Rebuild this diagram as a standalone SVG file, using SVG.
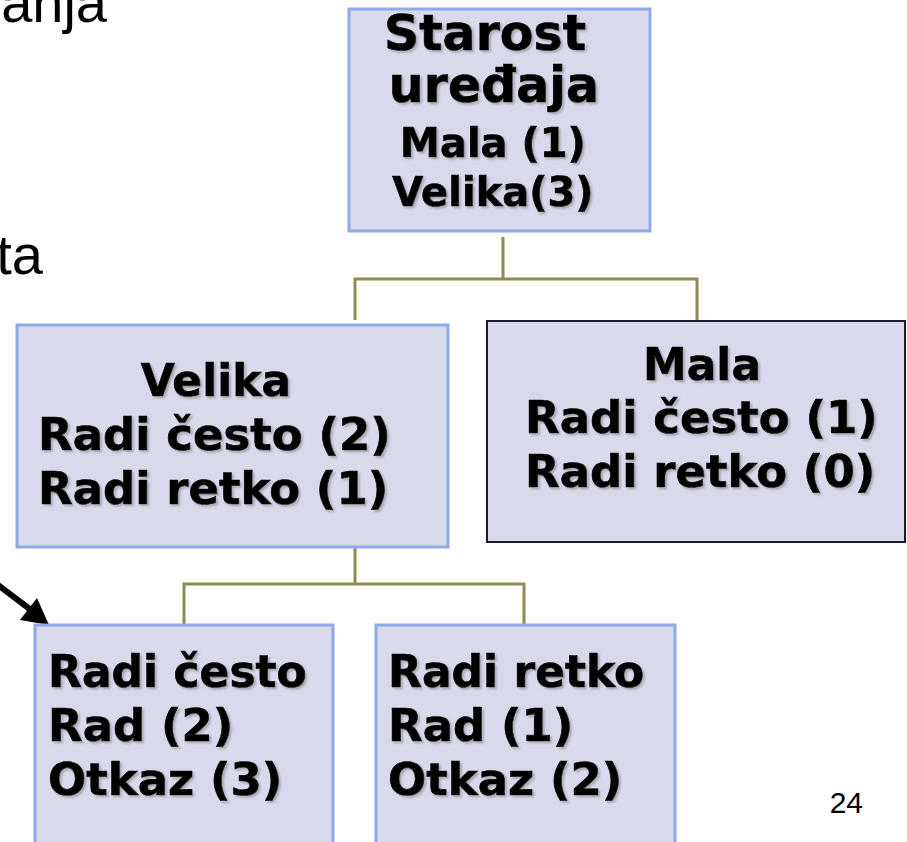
<svg xmlns="http://www.w3.org/2000/svg" width="907" height="842" viewBox="0 0 907 842">
<defs>
<filter id="sh" x="-5%" y="-10%" width="115%" height="130%">
<feDropShadow dx="2" dy="2" stdDeviation="0.8" flood-color="#888" flood-opacity="0.6"/>
</filter>
</defs>
<style>
.box{fill:#d9d9ec;stroke:#8faaea;stroke-width:3}
.boxd{fill:#d9d9ec;stroke:#1c1c2c;stroke-width:2}
.t{font-family:"DejaVu Sans",Verdana,sans-serif;font-weight:bold;fill:#000;stroke:#000;stroke-width:0.7;filter:url(#sh)}
.s{font-family:"Liberation Sans",Arial,sans-serif;fill:#000}
.c{fill:none;stroke:#8e8c4e;stroke-width:3}
</style>
<rect width="907" height="842" fill="#fff"/>
<text class="s" x="107" y="22" font-size="56" text-anchor="end">anja</text>
<text class="s" x="43" y="274" font-size="56" text-anchor="end">ta</text>
<text class="s" x="863" y="813" font-size="30" text-anchor="end">24</text>
<g id="connectors">
<path class="c" d="M503,237 V279 M355,320 V279 H697 V320"/>
<path class="c" d="M355,547 V584 M184,625 V584 H524 V625"/>
<line x1="-2" y1="585" x2="31" y2="610" stroke="#000" stroke-width="6"/>
<polygon points="49,625 20,620 37,598" fill="#000"/>
</g>
<g id="n_starost">
<rect class="box" x="349" y="9" width="301" height="222"/>
<text class="t" font-size="49" x="485" y="50" text-anchor="middle">Starost</text>
<text class="t" font-size="49" x="494" y="102" text-anchor="middle">uređaja</text>
<text class="t" font-size="40" x="493" y="157" text-anchor="middle">Mala (1)</text>
<text class="t" font-size="40" x="493" y="206" text-anchor="middle">Velika(3)</text>
</g>
<g id="n_velika">
<rect class="box" x="17" y="325" width="431" height="222"/>
<text class="t" font-size="44" x="216" y="396" text-anchor="middle">Velika</text>
<text class="t" font-size="45" x="38" y="450">Radi često (2)</text>
<text class="t" font-size="45" x="38" y="504">Radi retko (1)</text>
</g>
<g id="n_mala">
<rect class="boxd" x="487" y="321" width="418" height="221"/>
<text class="t" font-size="44" x="702" y="380" text-anchor="middle">Mala</text>
<text class="t" font-size="45" x="525" y="433">Radi često (1)</text>
<text class="t" font-size="45" x="525" y="487">Radi retko (0)</text>
</g>
<g id="n_cesto">
<rect class="box" x="35" y="625" width="298" height="230"/>
<text class="t" font-size="44" x="48" y="687">Radi često</text>
<text class="t" font-size="45" x="48" y="741">Rad (2)</text>
<text class="t" font-size="45" x="48" y="795">Otkaz (3)</text>
</g>
<g id="n_retko">
<rect class="box" x="376" y="625" width="299" height="230"/>
<text class="t" font-size="44" x="388" y="687">Radi retko</text>
<text class="t" font-size="45" x="388" y="741">Rad (1)</text>
<text class="t" font-size="45" x="388" y="795">Otkaz (2)</text>
</g>
</svg>
